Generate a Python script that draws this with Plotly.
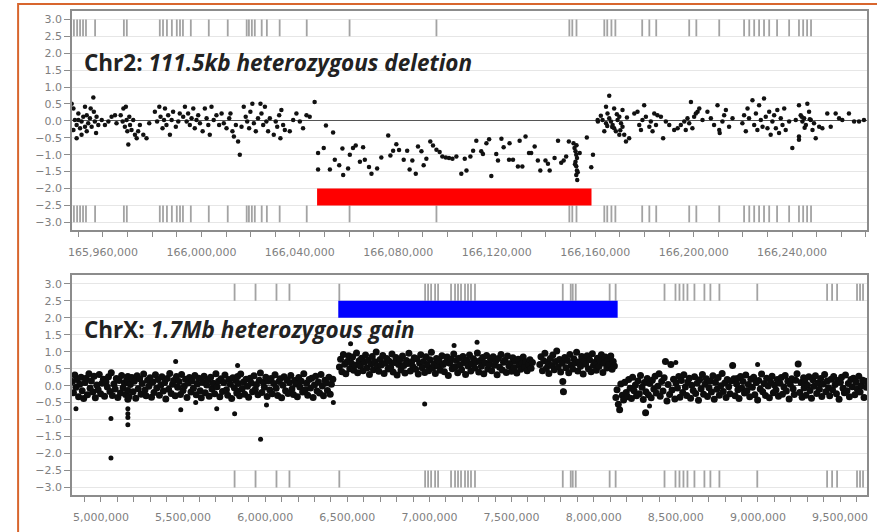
import plotly.graph_objects as go

# ---------------- DATA ----------------
# Chr2 probe positions (kb) and log2 ratios
chr2_left_kb = [165947.3, 165948.0, 165948.6, 165949.3, 165950.0, 165950.7, 165951.3, 165952.0, 165952.7, 165953.4,
                165954.0, 165954.7, 165955.4, 165956.1, 165956.3, 165956.7, 165957.2, 165957.4, 165949.3, 165951.3,
                165948.0, 165953.4, 165955.0, 165950.0, 165952.7, 165958.1, 165959.5, 165960.8, 165962.2, 165963.5,
                165964.9, 165965.5, 165967.2, 165968.0, 165968.3, 165968.9, 165969.3, 165969.6, 165969.9, 165970.3,
                165970.7, 165971.0, 165971.6, 165972.3, 165973.0, 165973.7, 165974.3, 165975.0, 165976.4, 165977.7,
                165978.8, 165981.1, 165982.0, 165982.9, 165983.4, 165984.2, 165984.8, 165985.2, 165985.8, 165986.5,
                165987.2, 165987.9, 165988.5, 165989.6, 165990.6, 165991.2, 165992.6, 165993.3, 165994.0, 165994.6,
                165995.3, 165996.0, 165996.7, 165997.3, 165998.0, 165998.7, 165999.4, 166000.5, 166001.4, 166002.1,
                166002.8, 166003.4, 166004.1, 166005.0, 166006.1, 166007.2, 166008.2, 166009.1, 166010.2, 166011.3,
                166011.8, 166012.6, 166013.2, 166014.0, 166014.9, 166015.6, 166016.3, 166017.2, 166018.0, 166018.6,
                166019.4, 166019.9, 166020.7, 166021.3, 166022.1, 166023.0, 166024.0, 166024.4, 166025.1, 166025.8,
                166026.4, 166027.1, 166027.8, 166029.4, 166030.2, 166030.8, 166031.6, 166032.1, 166032.5, 166033.2,
                166033.9, 166035.9, 166037.3, 166038.6, 166040.0, 166041.3, 166042.7, 166044.0, 166046.0]
chr2_left_val = [0.51, 0.37, 0.03, -0.12, 0.22, -0.22, -0.02, 0.12, 0.42, -0.31,
                 -0.07, 0.08, -0.17, 0.69, 0.27, -0.02, -0.36, 0.12, -0.51, -0.41,
                 -0.27, 0.17, 0.37, 0.03, -0.17, -0.12, 0.03, -0.12, -0.02, 0.12,
                 0.17, -0.07, 0.17, -0.02, 0.37, -0.17, 0.42, 0.03, -0.31, -0.70,
                 0.12, -0.12, -0.27, 0.03, -0.41, -0.51, -0.31, -0.12, -0.41, -0.51,
                 -0.07, 0.27, -0.02, 0.42, 0.12, -0.22, 0.03, 0.37, -0.12, 0.17,
                 -0.41, 0.03, 0.27, -0.17, -0.02, 0.22, 0.12, 0.42, -0.02, 0.22,
                 -0.12, 0.08, 0.37, -0.22, 0.03, 0.17, -0.07, -0.31, 0.37, 0.08,
                 -0.12, -0.41, 0.42, 0.03, 0.17, -0.12, 0.22, -0.07, -0.22, 0.08,
                 0.22, -0.31, -0.46, -0.12, -0.61, -1.00, -0.17, 0.42, 0.12, -0.02,
                 -0.22, 0.27, 0.51, -0.07, -0.31, 0.08, 0.51, 0.22, -0.12, 0.42,
                 -0.02, -0.31, 0.08, -0.41, -0.02, -0.17, 0.17, -0.51, 0.32, -0.12,
                 -0.27, -0.31, 0.03, 0.22, -0.02, -0.22, 0.17, 0.12, 0.56]

chr2_del_kb = [166050.6, 166053.5, 166047.4, 166049.7, 166047.4, 166052.2, 166054.2, 166056.0, 166057.3, 166057.6,
               166059.6, 166060.3, 166061.6, 166062.7, 166064.4, 166065.7, 166066.4, 166068.1, 166069.1, 166071.4,
               166073.1, 166075.9, 166076.8, 166077.9, 166079.2, 166080.3, 166082.2, 166083.6, 166084.6, 166085.7,
               166087.1, 166088.0, 166089.4, 166090.3, 166091.4, 166093.0, 166094.1, 166095.5, 166096.8, 166097.9,
               166099.3, 166100.6, 166102.0, 166103.6, 166105.6, 166107.0, 166107.7, 166109.3, 166110.4, 166111.7,
               166113.7, 166114.4, 166115.8, 166116.9, 166117.8, 166119.8, 166120.5, 166121.9, 166122.8, 166125.0,
               166125.2, 166126.6, 166128.6, 166129.3, 166130.4, 166131.7, 166133.1, 166134.0, 166135.4, 166136.7,
               166137.7, 166139.8, 166140.8, 166141.5, 166143.5, 166144.9, 166146.2, 166147.2, 166148.2, 166149.3,
               166151.2, 166151.6, 166152.0, 166152.3, 166152.6, 166152.0, 166152.3, 166152.6, 166152.3, 166152.7,
               166153.7, 166156.6, 166158.4, 166159.1, 166151.8, 166152.4, 166152.9]
chr2_del_val = [-0.14, -0.34, -0.95, -0.80, -1.44, -1.44, -1.15, -1.31, -0.82, -1.60,
                -1.41, -1.00, -0.80, -0.73, -1.21, -0.78, -1.15, -1.36, -1.56, -1.41,
                -1.08, -0.43, -1.02, -0.88, -0.69, -0.86, -1.15, -0.88, -1.44, -1.17,
                -1.56, -0.76, -0.90, -1.31, -1.12, -0.61, -0.73, -0.85, -0.92, -1.05,
                -1.08, -1.10, -1.12, -1.05, -1.56, -1.12, -1.47, -1.05, -0.88, -0.59,
                -0.90, -0.98, -0.66, -0.54, -1.63, -0.98, -1.17, -0.53, -0.78, -1.15,
                -0.66, -1.15, -1.35, -0.59, -1.35, -0.46, -0.95, -0.95, -0.76, -1.17,
                -1.47, -1.17, -1.27, -1.47, -1.10, -0.59, -1.24, -1.17, -1.05, -0.61,
                -0.66, -0.80, -0.90, -1.00, -1.10, -1.21, -1.34, -1.47, -1.60, -1.75,
                -0.95, -0.49, -1.37, -1.00, -1.28, -0.72, -1.52]

chr2_right_kb = [166161.1, 166165.7, 166164.4, 166165.0, 166165.7, 166166.4, 166167.1, 166167.7, 166168.4, 166169.1,
                 166169.8, 166170.5, 166171.1, 166171.8, 166172.5, 166163.7, 166164.4, 166163.0, 166161.0, 166173.8,
                 166169.8, 166167.7, 166171.1, 166175.9, 166177.2, 166177.9, 166178.6, 166179.2, 166179.9, 166180.6,
                 166182.0, 166182.6, 166183.3, 166184.0, 166184.7, 166185.3, 166186.7, 166187.6, 166188.7, 166190.1,
                 166192.1, 166193.5, 166194.8, 166196.2, 166196.8, 166197.5, 166198.2, 166198.9, 166199.5, 166200.2,
                 166200.9, 166201.6, 166202.3, 166203.6, 166205.6, 166207.0, 166208.3, 166209.7, 166210.4, 166210.6,
                 166211.7, 166212.4, 166213.1, 166214.4, 166215.8, 166219.8, 166220.5, 166221.2, 166221.9, 166222.5,
                 166223.9, 166224.6, 166225.3, 166225.9, 166226.6, 166227.3, 166228.0, 166228.6, 166229.3, 166230.0,
                 166230.7, 166231.3, 166232.0, 166232.7, 166233.4, 166234.0, 166234.7, 166235.4, 166236.1, 166236.8,
                 166237.4, 166238.8, 166240.1, 166241.5, 166242.8, 166243.5, 166244.2, 166244.9, 166245.6, 166246.2,
                 166246.9, 166247.6, 166248.3, 166248.9, 166249.6, 166251.0, 166252.3, 166242.8, 166242.8, 166254.3,
                 166255.7, 166257.7, 166259.1, 166260.4, 166263.1, 166265.2, 166267.2, 166269.2, 166162.3, 166166.9,
                 166168.8, 166170.2, 166164.9, 166172.9, 166243.9, 166245.1, 166247.2]
chr2_right_val = [-0.02, 0.74, 0.42, 0.22, 0.08, -0.02, -0.12, -0.22, -0.31, 0.03,
                  0.12, -0.07, -0.17, -0.41, -0.61, -0.31, -0.07, 0.03, 0.03, -0.51,
                  -0.41, 0.37, 0.32, 0.22, 0.27, -0.12, -0.27, 0.03, 0.46, 0.12,
                  -0.17, -0.02, -0.31, 0.22, -0.12, 0.17, 0.12, -0.51, -0.02, -0.12,
                  -0.27, -0.22, -0.12, -0.02, -0.27, 0.08, -0.07, 0.56, -0.22, 0.12,
                  0.22, 0.27, 0.37, 0.03, 0.27, 0.08, -0.12, 0.46, -0.27, -0.36,
                  -0.02, 0.17, 0.32, -0.17, 0.08, -0.07, 0.17, -0.31, 0.37, 0.08,
                  0.61, -0.12, 0.22, -0.27, 0.46, 0.03, -0.17, 0.66, 0.12, -0.22,
                  0.27, -0.41, -0.02, 0.17, -0.22, 0.32, -0.36, 0.08, -0.12, 0.37,
                  -0.27, -0.02, -0.80, 0.03, 0.46, 0.17, -0.02, 0.08, -0.12, 0.51,
                  0.27, 0.03, -0.27, -0.07, -0.51, -0.17, -0.22, -0.46, -0.56, 0.22,
                  -0.17, 0.22, 0.08, 0.03, 0.22, -0.02, -0.02, 0.03, 0.15, -0.18,
                  0.20, -0.28, -0.15, 0.10, 0.12, -0.20, 0.05]

# Chr2 gene track positions (kb)
chr2_genes_kb = [165948.2, 165949.5, 165950.7, 165951.9, 165953.1, 165956.8, 165968.5, 165969.7, 165983.1, 165984.4,
                 165986.0, 165988.0, 165990.0, 165991.3, 165992.5, 165995.7, 166003.0, 166010.7, 166018.4, 166019.3,
                 166020.5, 166021.7, 166024.5, 166026.6, 166031.8, 166042.8, 166060.2, 166095.5, 166149.5, 166150.7,
                 166152.4, 166163.7, 166164.9, 166166.6, 166168.2, 166179.1, 166182.0, 166184.8, 166198.2, 166201.1,
                 166210.4, 166220.5, 166222.6, 166224.6, 166226.6, 166228.6, 166230.7, 166233.9, 166238.8, 166242.8,
                 166244.5, 166246.1, 166247.7]

chr2_del_start_kb = 166047.0
chr2_del_end_kb = 166158.5

# ChrX probe positions (kb) and log2 ratios
chrx_a_kb = [4826, 4833, 4841, 4848, 4855, 4864, 4871, 4879, 4886, 4895, 4903, 4910, 4918, 4927, 4934, 4942, 4951, 4958,
             4966, 4975, 4983, 4990, 4998, 5007, 5015, 5022, 5031, 5039, 5046, 5055, 5063, 5070, 5079, 5087, 5094, 5103,
             5111, 5119, 5126, 5135, 5143, 5150, 5158, 5164, 5164, 5164, 5164, 5171, 5179, 5188, 5196, 5203, 5212, 5220,
             5227, 5236, 5244, 5251, 5260, 5268, 5275, 5284, 5292, 5299, 5308, 5316, 5323, 5332, 5340, 5347, 5356, 5364,
             5371, 5380, 5388, 5395, 5404, 5412, 5419, 5428, 5436, 5443, 5452, 5460, 5467, 5476, 5484, 5491, 5500, 5508,
             5515, 5524, 5532, 5539, 5548, 5556, 5563, 5572, 5580, 5587, 5596, 5604, 5611, 5620, 5628, 5635, 5644, 5652,
             5659, 5668, 5676, 5683, 5692, 5700, 5707, 5716, 5724, 5731, 5740, 5748, 5755, 5764, 5772, 5779, 5788, 5796,
             5803, 5812, 5820, 5827, 5832, 5832, 5836, 5844, 5851, 5860, 5868, 5875, 5884, 5892, 5899, 5908, 5916, 5923,
             5932, 5940, 5947, 5956, 5964, 5971, 5980, 5988, 5995, 6004, 6012, 6019, 6028, 6036, 6043, 6052, 6060, 6067,
             6076, 6084, 6091, 6100, 6108, 6115, 6124, 6132, 6139, 6148, 6156, 6163, 6172, 6180, 6187, 6196, 6204, 6211,
             6220, 6228, 6235, 6244, 6252, 6259, 6268, 6276, 6283, 6292, 6300, 6307, 6316, 6324, 6331, 6340, 6348, 6355,
             6364, 6372, 6379, 6388, 6396, 6403, 6412, 6420, 6427, 6436, 6443]
chrx_a_val = [0.12, -0.21, 0.31, -0.05, 0.18, -0.33, 0.04, 0.25, -0.15, -0.38,
              0.09, 0.22, -0.27, 0.35, -0.08, 0.14, -0.19, 0.28, -0.36, 0.02,
              -0.12, 0.33, -0.24, 0.07, 0.19, -0.31, 0.11, -0.04, 0.26, -0.17,
              0.38, -0.29, 0.05, -0.10, 0.21, -0.35, 0.15, -0.22, 0.30, -0.06,
              0.08, -0.26, 0.17, -0.40, 0.10, -0.14, 0.27, -0.32, 0.03, 0.24,
              -0.18, 0.13, -0.37, 0.29, -0.09, 0.20, -0.25, 0.06, 0.34, -0.13,
              -0.30, 0.16, -0.02, 0.23, -0.34, 0.11, -0.20, 0.32, -0.07, 0.18,
              -0.28, 0.01, 0.26, -0.16, 0.09, -0.39, 0.21, -0.11, 0.36, -0.23,
              0.04, 0.15, -0.30, 0.27, -0.05, 0.12, -0.26, 0.33, -0.14, -0.01,
              0.19, -0.35, 0.08, 0.24, -0.19, 0.14, -0.08, 0.30, -0.27, 0.05,
              0.22, -0.15, -0.36, 0.10, 0.28, -0.21, 0.02, 0.17, -0.31, 0.25,
              -0.10, 0.07, -0.24, 0.35, -0.03, 0.13, -0.33, 0.20, -0.17, 0.09,
              0.31, -0.12, -0.28, 0.18, 0.04, -0.38, 0.23, -0.06, 0.15, -0.22,
              0.27, -0.16, 0.06, -0.30, 0.34, -0.09, 0.11, -0.25, 0.19, -0.02,
              -0.34, 0.22, 0.08, -0.18, 0.29, -0.11, 0.03, -0.27, 0.16, 0.37,
              -0.20, 0.10, -0.05, 0.25, -0.32, 0.14, -0.13, 0.21, -0.24, 0.06,
              0.32, -0.08, -0.29, 0.12, 0.20, -0.36, 0.01, 0.26, -0.15, 0.17,
              -0.23, 0.09, 0.30, -0.10, -0.26, 0.15, 0.05, -0.33, 0.24, -0.04,
              0.13, -0.19, 0.35, -0.12, 0.07, -0.28, 0.18, -0.07, 0.22, -0.35,
              0.02, 0.28, -0.16, 0.11, -0.22, 0.33, -0.01, -0.30, 0.16, 0.08,
              -0.14, 0.25, -0.25, 0.04, 0.19]

chrx_b_kb = [6452, 6459, 6467, 6476, 6484, 6491, 6500, 6508, 6515, 6524, 6532, 6539, 6548, 6556, 6563, 6572, 6580, 6587,
             6596, 6604, 6611, 6620, 6628, 6635, 6644, 6652, 6659, 6668, 6676, 6683, 6692, 6700, 6707, 6716, 6724, 6731,
             6740, 6748, 6755, 6764, 6772, 6779, 6788, 6796, 6803, 6812, 6820, 6827, 6836, 6844, 6851, 6860, 6868, 6875,
             6884, 6892, 6899, 6908, 6916, 6923, 6932, 6940, 6947, 6956, 6964, 6971, 6980, 6988, 6995, 7004, 7012, 7019,
             7028, 7036, 7043, 7052, 7060, 7067, 7076, 7084, 7091, 7100, 7108, 7115, 7124, 7132, 7139, 7148, 7156, 7163,
             7172, 7180, 7187, 7196, 7204, 7211, 7220, 7228, 7235, 7244, 7252, 7259, 7268, 7276, 7283, 7292, 7300, 7307,
             7316, 7324, 7331, 7340, 7348, 7355, 7364, 7372, 7379, 7388, 7396, 7403, 7412, 7420, 7427, 7436, 7444, 7451,
             7460, 7468, 7475, 7484, 7492, 7499, 7508, 7516, 7523, 7532, 7540, 7547, 7556, 7564, 7571, 7580, 7588, 7595,
             7604, 7612, 7619, 7627]
chrx_b_val = [0.55, 0.78, 0.41, 0.92, 0.63, 0.35, 0.71, 0.88, 0.50, 0.67,
              0.84, 0.45, 0.60, 0.96, 0.38, 0.73, 0.57, 0.81, 0.44, 0.69,
              0.90, 0.52, 0.75, 0.33, 0.64, 0.86, 0.47, 0.70, 0.99, 0.58,
              0.42, 0.77, 0.61, 0.89, 0.36, 0.66, 0.80, 0.49, 0.72, 0.54,
              0.93, 0.40, 0.68, 0.83, 0.31, 0.62, 0.76, 0.46, 0.87, 0.59,
              0.37, 0.74, 0.65, 0.95, 0.43, 0.70, 0.56, 0.82, 0.48, 0.79,
              0.34, 0.67, 0.91, 0.53, 0.71, 0.39, 0.85, 0.60, 0.44, 0.76,
              0.98, 0.51, 0.63, 0.36, 0.80, 0.57, 0.72, 0.45, 0.88, 0.62,
              0.41, 0.69, 0.84, 0.30, 0.66, 0.78, 0.50, 0.93, 0.55, 0.74,
              0.38, 0.81, 0.61, 0.47, 0.86, 0.68, 0.33, 0.75, 0.58, 0.90,
              0.43, 0.64, 0.79, 0.52, 0.70, 0.96, 0.40, 0.73, 0.57, 0.83,
              0.35, 0.67, 0.89, 0.49, 0.62, 0.77, 0.44, 0.85, 0.60, 0.71,
              0.32, 0.80, 0.54, 0.92, 0.46, 0.69, 0.75, 0.39, 0.87, 0.58,
              0.65, 0.42, 0.82, 0.53, 0.72, 0.37, 0.78, 0.61, 0.48, 0.66,
              0.84, 0.55, 0.70, 0.44, 0.63, 0.76, 0.51, 0.68]

chrx_c_kb = [7672, 7679, 7688, 7696, 7703, 7712, 7720, 7727, 7736, 7744, 7751, 7760, 7768, 7775, 7784, 7792, 7799, 7808,
             7812, 7816, 7824, 7831, 7840, 7848, 7855, 7864, 7872, 7879, 7888, 7896, 7903, 7912, 7920, 7927, 7936, 7944,
             7951, 7960, 7968, 7975, 7984, 7992, 7999, 8008, 8016, 8023, 8032, 8040, 8047, 8056, 8064, 8071, 8080, 8088,
             8095, 8104, 8112, 8119, 8126]
chrx_c_val = [0.62, 0.85, 0.44, 0.73, 0.95, 0.51, 0.68, 0.36, 0.80, 0.59,
              0.90, 0.47, 0.71, 1.02, 0.55, 0.77, 0.40, 0.66, 0.12, -0.18,
              0.83, 0.53, 0.74, 0.38, 0.92, 0.61, 0.49, 0.79, 0.67, 0.98,
              0.43, 0.70, 0.57, 0.86, 0.34, 0.72, 0.63, 0.88, 0.50, 0.76,
              0.41, 0.94, 0.60, 0.69, 0.45, 0.81, 0.56, 0.73, 0.91, 0.39,
              0.66, 0.84, 0.52, 0.75, 0.62, 0.87, 0.48, 0.71, 0.58]

chrx_d_kb = [8135, 8142, 8150, 8158, 8165, 8174, 8182, 8189, 8198, 8206, 8213, 8222, 8230, 8237, 8246, 8254, 8261, 8270,
             8278, 8285, 8294, 8302, 8309, 8316, 8318, 8326, 8333, 8342, 8350, 8357, 8366, 8374, 8381, 8390, 8398, 8405,
             8414, 8422, 8429, 8437, 8446, 8453, 8462, 8470, 8477, 8486, 8494, 8501, 8510, 8518, 8525, 8534, 8542, 8549,
             8558, 8566, 8573, 8582, 8590, 8597, 8606, 8614, 8621, 8630, 8638, 8645, 8654, 8662, 8669, 8678, 8686, 8693,
             8702, 8710, 8717, 8726, 8734, 8741, 8750, 8758, 8765, 8774, 8782, 8789, 8798, 8806, 8813, 8822, 8830, 8837,
             8846, 8854, 8861, 8870, 8875, 8878, 8885, 8894, 8902, 8909, 8918, 8926, 8933, 8942, 8950, 8957, 8966, 8974,
             8981, 8990, 8998, 9005, 9014, 9022, 9029, 9038, 9046, 9053, 9062, 9070, 9077, 9086, 9094, 9101, 9110, 9118,
             9125, 9134, 9142, 9149, 9158, 9166, 9173, 9182, 9190, 9197, 9206, 9214, 9221, 9230, 9238, 9245, 9254, 9262,
             9269, 9278, 9281, 9286, 9293, 9302, 9310, 9317, 9326, 9334, 9341, 9350, 9358, 9365, 9374, 9382, 9389, 9398,
             9406, 9413, 9422, 9430, 9437, 9446, 9454, 9461, 9470, 9478, 9485, 9494, 9502, 9509, 9518, 9526, 9533, 9542,
             9550, 9557, 9566, 9574, 9581, 9590, 9598, 9605, 9614, 9622, 9629, 9638, 9646, 9653, 9660]
chrx_d_val = [-0.35, -0.12, -0.55, -0.71, 0.05, -0.28, -0.42, 0.10, -0.20, -0.33,
              0.18, -0.08, -0.38, 0.25, -0.15, 0.02, -0.30, 0.14, -0.24, 0.30,
              -0.05, -0.41, 0.09, -0.80, -0.18, 0.21, -0.27, 0.06, -0.36, 0.16,
              -0.10, 0.28, -0.22, -0.02, 0.35, -0.31, 0.12, -0.16, 0.23, 0.71,
              -0.45, 0.03, -0.26, 0.62, -0.13, 0.19, -0.39, 0.08, -0.07, 0.27,
              -0.34, 0.15, -0.20, 0.32, -0.04, -0.29, 0.11, 0.22, -0.37, 0.01,
              -0.14, 0.26, -0.23, 0.07, -0.43, 0.17, -0.09, 0.33, -0.25, 0.04,
              0.20, -0.32, -0.06, 0.13, -0.19, 0.29, -0.40, 0.10, -0.11, 0.24,
              -0.28, 0.00, 0.36, -0.17, 0.08, -0.35, 0.18, -0.03, -0.24, 0.14,
              0.59, 0.20, -0.30, 0.05, 0.21, -0.12, -0.38, 0.27, -0.08, 0.12,
              -0.22, 0.31, -0.15, 0.03, -0.33, 0.19, -0.05, 0.25, -0.27, 0.09,
              -0.42, 0.15, -0.10, 0.34, -0.18, 0.06, -0.29, 0.22, -0.01, -0.36,
              0.11, 0.28, -0.21, 0.02, -0.13, 0.18, -0.31, 0.07, 0.24, -0.25,
              -0.04, 0.30, -0.16, 0.13, -0.39, 0.04, 0.20, -0.09, -0.26, 0.16,
              0.35, 0.64, -0.20, 0.09, -0.34, 0.23, -0.07, 0.12, -0.28, 0.01,
              0.26, -0.14, -0.37, 0.17, -0.02, 0.29, -0.23, 0.08, -0.11, 0.21,
              -0.32, 0.05, 0.33, -0.18, 0.14, -0.06, -0.30, 0.19, -0.12, 0.27,
              0.03, -0.24, 0.15, -0.40, 0.10, 0.25, -0.08, -0.21, 0.31, -0.15,
              0.06, -0.33, 0.18, -0.03, 0.22, -0.27, 0.11, -0.10, 0.28, -0.19,
              0.00, 0.16, -0.35, 0.13, -0.05, 0.24, -0.22, 0.07, -0.14, 0.20]

chrx_out_kb = [4848, 5061, 5061, 5164, 5164, 5164, 5164, 5455, 5486, 5577, 5705, 5814, 5832, 5972, 6008, 6415,
               6971, 6520, 7290, 7150, 7812, 8158, 8316, 8470, 8500, 8998, 8340]
chrx_out_val = [-0.68, -0.97, -2.13, -0.68, -0.83, -0.94, -1.15, 0.71, -0.71, -0.50, -0.68, -0.83, 0.59, -1.58, -0.57, -0.50,
                -0.54, 1.23, 1.28, 1.18, -0.16, -0.71, -0.80, 0.62, 0.68, 0.62, -0.60]

chrx_genes_kb = [5813.8, 5941.3, 6068.8, 6147.8, 6451.4, 6973.7, 6991.9, 7010.2, 7034.5, 7052.7, 7131.6, 7155.9, 7174.1,
                 7192.4, 7216.6, 7234.9, 7253.1, 7277.4, 7811.8, 7860.4, 7872.5, 7890.7, 8097.2, 8133.7, 8431.2, 8498.0,
                 8522.3, 8546.6, 8570.9, 8613.4, 8674.2, 8710.6, 8765.3, 8996.0, 9421.1, 9451.5, 9481.9, 9603.3,
                 9621.6, 9639.8]

chrx_gain_start_kb = 6445
chrx_gain_end_kb = 8146

y_tick_vals = [3.0, 2.5, 2.0, 1.5, 1.0, 0.5, 0.0, -0.5, -1.0, -1.5, -2.0, -2.5, -3.0]

title_chr2 = "<b>Chr2: <i>111.5kb heterozygous deletion</i></b>"
title_chrx = "<b>ChrX: <i>1.7Mb heterozygous gain</i></b>"


# ---------------- FIGURE ----------------
def pairs(xs, ys):
    pr = list(zip(xs, ys))
    return [p[0] * 1000 for p in pr], [p[1] for p in pr]


def gene_lines(kb_list, y0, y1):
    xs, ys = [], []
    for k in kb_list:
        xs += [k * 1000, k * 1000, None]
        ys += [y0, y1, None]
    return xs, ys


fig = go.Figure()

GENE_COLOR = "#a3a3a3"

# Chr2 panel
for lo, hi in [(2.5, 3.0), (-3.0, -2.5)]:
    gx, gy = gene_lines(chr2_genes_kb, lo, hi)
    fig.add_trace(go.Scatter(x=gx, y=gy, mode="lines", line=dict(color=GENE_COLOR, width=1.8),
                             xaxis="x", yaxis="y", hoverinfo="skip", showlegend=False))
for kb, val in [(chr2_left_kb, chr2_left_val), (chr2_del_kb, chr2_del_val), (chr2_right_kb, chr2_right_val)]:
    px_, py_ = pairs(kb, val)
    fig.add_trace(go.Scatter(x=px_, y=py_, mode="markers", marker=dict(color="#111111", size=4.5),
                             xaxis="x", yaxis="y", showlegend=False))

# ChrX panel
for lo, hi in [(2.5, 3.0), (-3.0, -2.5)]:
    gx, gy = gene_lines(chrx_genes_kb, lo, hi)
    fig.add_trace(go.Scatter(x=gx, y=gy, mode="lines", line=dict(color=GENE_COLOR, width=1.8),
                             xaxis="x2", yaxis="y2", hoverinfo="skip", showlegend=False))
for kb, val in [(chrx_a_kb, chrx_a_val), (chrx_b_kb, chrx_b_val), (chrx_c_kb, chrx_c_val),
                (chrx_d_kb, chrx_d_val)]:
    px_, py_ = pairs(kb, val)
    fig.add_trace(go.Scatter(x=px_, y=py_, mode="markers", marker=dict(color="#0d0d0d", size=7),
                             xaxis="x2", yaxis="y2", showlegend=False))
px_, py_ = pairs(chrx_out_kb, chrx_out_val)
fig.add_trace(go.Scatter(x=px_, y=py_, mode="markers", marker=dict(color="#0d0d0d", size=5),
                         xaxis="x2", yaxis="y2", showlegend=False))

# CNV bars
fig.add_shape(type="rect", xref="x", yref="y", x0=chr2_del_start_kb * 1000, x1=chr2_del_end_kb * 1000,
              y0=-2.5, y1=-2.0, fillcolor="#ff0000", line=dict(width=0))
fig.add_shape(type="rect", xref="x2", yref="y2", x0=chrx_gain_start_kb * 1000, x1=chrx_gain_end_kb * 1000,
              y0=2.0, y1=2.5, fillcolor="#0000ff", line=dict(width=0))

# Orange frame around the figure
fig.add_shape(type="rect", xref="paper", yref="paper", x0=-0.0678, x1=1.02, y0=-0.09, y1=1.0143,
              line=dict(color="#d8662e", width=2), fillcolor="rgba(0,0,0,0)", layer="above")

fig.add_annotation(text=title_chr2, xref="paper", yref="paper", x=0.0125, y=0.893, xanchor="left", yanchor="middle",
                   showarrow=False, font=dict(family="Open Sans", size=22.5, color="#222222"))
fig.add_annotation(text=title_chrx, xref="paper", yref="paper", x=0.0125, y=0.341, xanchor="left", yanchor="middle",
                   showarrow=False, font=dict(family="Open Sans", size=22.5, color="#222222"))

tick_font = dict(family="DejaVu Sans", size=11, color="#7f7f7f")

yaxis_common = dict(range=[-3.22, 3.25], tickvals=y_tick_vals, tickformat=".1f", showgrid=True,
                    gridcolor="#e6e6e6", gridwidth=1, zeroline=True, zerolinecolor="#555555", zerolinewidth=1.3,
                    showline=True, mirror=True, linecolor="#8c8c8c", linewidth=1.5, ticks="outside", ticklen=6,
                    tickcolor="#8c8c8c", tickfont=tick_font)

fig.update_layout(
    width=877, height=532,
    margin=dict(l=72, r=8, t=11, b=32),
    paper_bgcolor="white", plot_bgcolor="white",
    showlegend=False,
    xaxis=dict(domain=[0, 1], anchor="y", range=[165947420, 166270440], tick0=165960000, dtick=40000,
               tickformat=",d", showgrid=False, zeroline=False, showline=True, mirror=True, linecolor="#8c8c8c",
               linewidth=1.5, ticks="outside", ticklen=5, tickcolor="#8c8c8c", tickfont=tick_font,
               ticklabelstandoff=6,
               minor=dict(dtick=10000, ticks="outside", ticklen=5, tickcolor="#8c8c8c", showgrid=False)),
    yaxis=dict(domain=[0.548, 1], anchor="x", **yaxis_common),
    xaxis2=dict(domain=[0, 1], anchor="y2", range=[4823900, 9664000], tick0=5000000, dtick=500000,
                tickformat=",d", showgrid=False, zeroline=False, showline=True, mirror=True, linecolor="#8c8c8c",
                linewidth=1.5, ticks="outside", ticklen=5, tickcolor="#8c8c8c", tickfont=tick_font,
                ticklabelstandoff=6,
                minor=dict(dtick=100000, ticks="outside", ticklen=5, tickcolor="#8c8c8c", showgrid=False)),
    yaxis2=dict(domain=[0, 0.454], anchor="x2", **yaxis_common),
)

fig.write_html("out.html", config={"displayModeBar": False},
               post_script="document.body.style.margin='0';document.body.style.overflow='hidden';")
